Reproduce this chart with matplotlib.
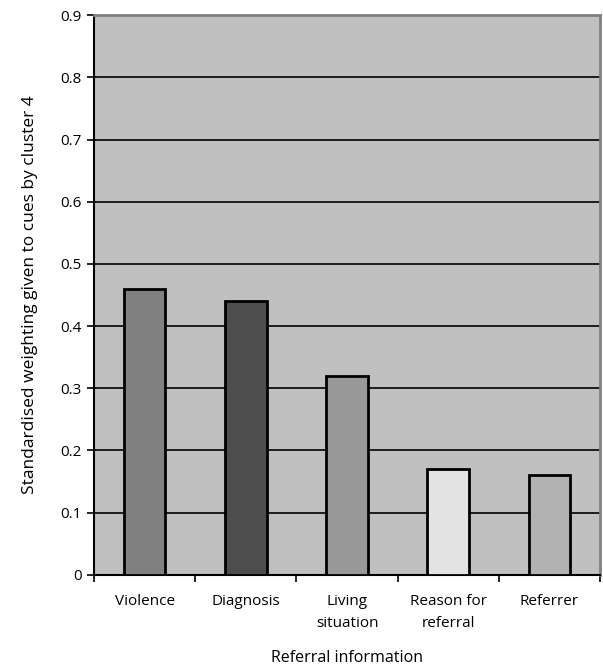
import numpy as np
import matplotlib.pyplot as plt

categories = ["Violence", "Diagnosis", "Living\nsituation", "Reason for\nreferral", "Referrer"]
values = [0.46, 0.44, 0.32, 0.17, 0.16]
bar_colors = ["#808080", "#4d4d4d", "#999999", "#e3e3e3", "#b2b2b2"]
yticks = [0, 0.1, 0.2, 0.3, 0.4, 0.5, 0.6, 0.7, 0.8, 0.9]

plt.rcParams['font.family'] = ['Open Sans', 'DejaVu Sans']
plt.rcParams['font.size'] = 11

fig = plt.figure(figsize=(6.03, 6.66), dpi=100)
ax = fig.add_axes([0.156, 0.137, 0.839, 0.840])

x = np.arange(len(categories))
ax.set_facecolor("#c0c0c0")
ax.bar(x, values, width=0.41, color=bar_colors, edgecolor="black", linewidth=2, zorder=3)

ax.set_xlim(-0.5, len(categories) - 0.5)
ax.set_ylim(0, 0.9)
ax.set_yticks(yticks)
ax.set_yticklabels(["0"] + ["%.1f" % v for v in yticks[1:]], fontsize=11)
ax.yaxis.grid(True, color="black", linewidth=1.2, zorder=1)
ax.set_axisbelow(True)

ax.set_xticks(x)
ax.set_xticklabels(categories, linespacing=1.6, fontsize=11)
ax.tick_params(axis="x", length=0, pad=14)
ax.set_xticks(np.arange(len(categories) + 1) - 0.5, minor=True)
ax.tick_params(axis="x", which="minor", length=5, width=1.2, direction="out")
ax.tick_params(axis="y", length=5, width=1.2, direction="out", pad=4)

for side in ["top", "right"]:
    ax.spines[side].set_color("#808080")
    ax.spines[side].set_linewidth(2)
for side in ["left", "bottom"]:
    ax.spines[side].set_color("black")
    ax.spines[side].set_linewidth(1.5)

ax.set_ylabel("Standardised weighting given to cues by cluster 4", fontsize=12.5, labelpad=16)
ax.set_xlabel("Referral information", fontsize=11.5, labelpad=14)

fig.savefig("out.png", dpi=100)
